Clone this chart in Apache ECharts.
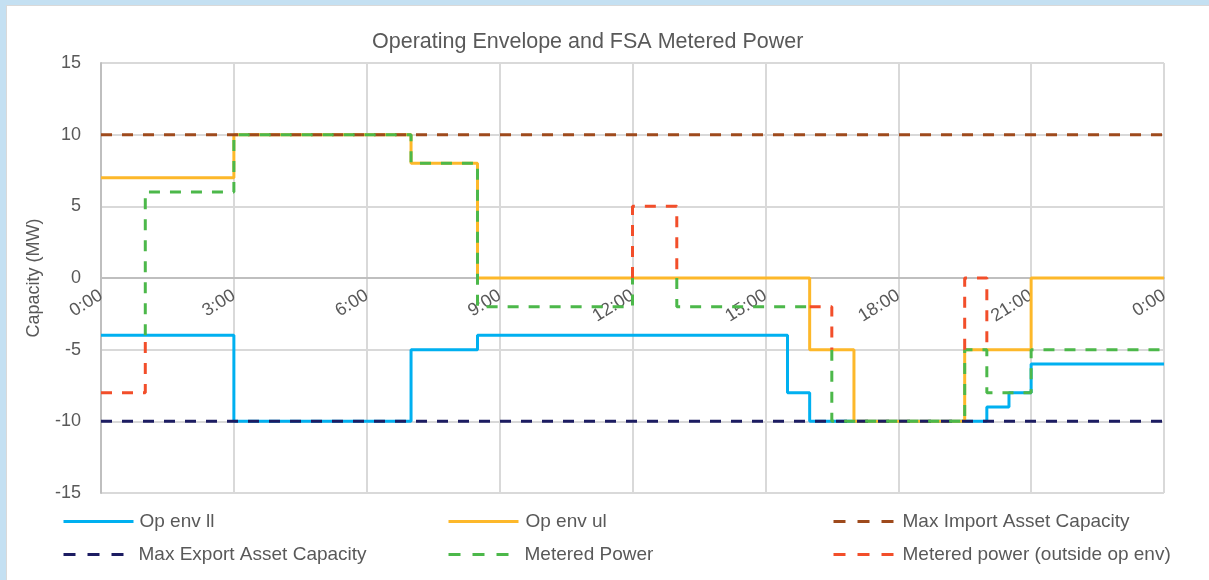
<!DOCTYPE html>
<html>
<head>
<meta charset="utf-8">
<title>Operating Envelope and FSA Metered Power</title>
<script src="https://cdn.jsdelivr.net/npm/echarts@6/dist/echarts.min.js"></script>
<style>
  html, body { margin: 0; padding: 0; background: #c4e0f2; }
  #frame { position: absolute; left: 6px; top: 5px; width: 1203px; height: 575px; background: #fff; border-top: 1px solid #d9d9d9; border-left: 1px solid #d9d9d9; }
  #chart { position: absolute; left: -7px; top: -6px; width: 1209px; height: 580px; }
</style>
</head>
<body>
<div id="frame"><div id="chart"></div></div>
<script>
// hours of the day (0 - 24) and the value in MW from that hour on
var opEnvLlTimes = [0, 3, 7, 8.5, 15.5, 16, 20, 20.5, 21, 24];
var opEnvLl      = [-4, -10, -5, -4, -8, -10, -9, -8, -6, -6];

var opEnvUlTimes = [0, 3, 7, 8.5, 16, 17, 19.5, 21, 24];
var opEnvUl      = [7, 10, 8, 0, -5, -10, -5, 0, 0];

var assetTimes = [0, 24];
var maxImport  = [10, 10];
var maxExport  = [-10, -10];

// null = gap in the line
var meteredTimes = [1, 1, 3, 7, 8.5, 12, 12, 13, 13, 16, 16, 16.5, 16.5, 19.5, 20, 21, 24];
var metered      = [-4, 6, 10, 8, -2, 0, null, 0, -2, -2, null, -5, -10, -5, -8, -5, -5];

var outsideTimes = [0, 1, 1, 12, 12, 13, 13, 16, 16.5, 16.5, 19.5, 19.5, 20];
var outside      = [-8, -4, null, 0, 5, 0, null, -2, -5, null, -5, 0, -5];

var textColor = '#595959';
var font = 'Liberation Sans';

function pairs(times, values) {
  return times.map(function (t, i) {
    return [t, values[i] === null ? '-' : values[i]];
  });
}

function stepLine(name, times, values, color, dashed) {
  return {
    name: name,
    type: 'line',
    step: 'end',
    symbol: 'none',
    connectNulls: false,
    data: pairs(times, values),
    lineStyle: { color: color, width: 3, type: dashed ? [11, 10] : 'solid' },
    itemStyle: { color: color }
  };
}

function legendItem(name, left, top, dashed, textGap) {
  return {
    data: [name],
    left: left,
    top: top,
    padding: 0,
    itemWidth: dashed ? 60 : 70,
    itemHeight: 12,
    selectedMode: false,
    itemStyle: { opacity: 0 },
    lineStyle: { width: 3, type: dashed ? [12, 12] : 'solid' },
    textStyle: { color: textColor, fontSize: 19, fontFamily: font, padding: [0, 0, 0, textGap] }
  };
}

var chart = echarts.init(document.getElementById('chart'));
chart.setOption({
  animation: false,
  title: {
    text: 'Operating Envelope and FSA Metered Power',
    left: 367,
    top: 26,
    textStyle: { color: textColor, fontSize: 21.5, fontWeight: 'normal', fontFamily: font }
  },
  legend: [
    legendItem('Op env ll', 62, 512, false, 1),
    legendItem('Op env ul', 447, 512, false, 2),
    legendItem('Max Import Asset Capacity', 832, 512, true, 4),
    legendItem('Max Export Asset Capacity', 62, 545, true, 10),
    legendItem('Metered Power', 447, 545, true, 11),
    legendItem('Metered power (outside op env)', 832, 545, true, 4)
  ],
  grid: { left: 101, right: 45, top: 63, bottom: 87 },
  xAxis: {
    type: 'value',
    min: 0,
    max: 24,
    interval: 3,
    // axis crosses at 0 MW: lift it to the middle of the 430px tall grid
    offset: -215,
    axisLine: { onZero: false, lineStyle: { color: '#bfbfbf', width: 2 } },
    axisTick: { show: false },
    axisLabel: {
      rotate: 32,
      margin: 16,
      showMinLabel: true,
      showMaxLabel: true,
      color: textColor,
      fontSize: 18,
      fontFamily: font,
      formatter: function (v) { return (v % 24) + ':00'; }
    },
    splitLine: { show: true, lineStyle: { color: '#d9d9d9', width: 2 } }
  },
  yAxis: {
    type: 'value',
    min: -15,
    max: 15,
    interval: 5,
    name: 'Capacity (MW)',
    nameLocation: 'middle',
    nameGap: 58,
    nameTextStyle: { color: textColor, fontSize: 18, fontFamily: font },
    axisLine: { show: true, onZero: false, lineStyle: { color: '#bfbfbf', width: 2 } },
    axisTick: { show: false },
    axisLabel: { color: textColor, fontSize: 18, fontFamily: font, margin: 20 },
    splitLine: { lineStyle: { color: '#d9d9d9', width: 2 } }
  },
  series: [
    stepLine('Op env ll', opEnvLlTimes, opEnvLl, '#00b0f0', false),
    stepLine('Op env ul', opEnvUlTimes, opEnvUl, '#fdb82a', false),
    stepLine('Max Import Asset Capacity', assetTimes, maxImport, '#9e4a1c', true),
    stepLine('Max Export Asset Capacity', assetTimes, maxExport, '#1c1c62', true),
    stepLine('Metered Power', meteredTimes, metered, '#4cb84a', true),
    stepLine('Metered power (outside op env)', outsideTimes, outside, '#f24e2a', true)
  ]
});
</script>
</body>
</html>
